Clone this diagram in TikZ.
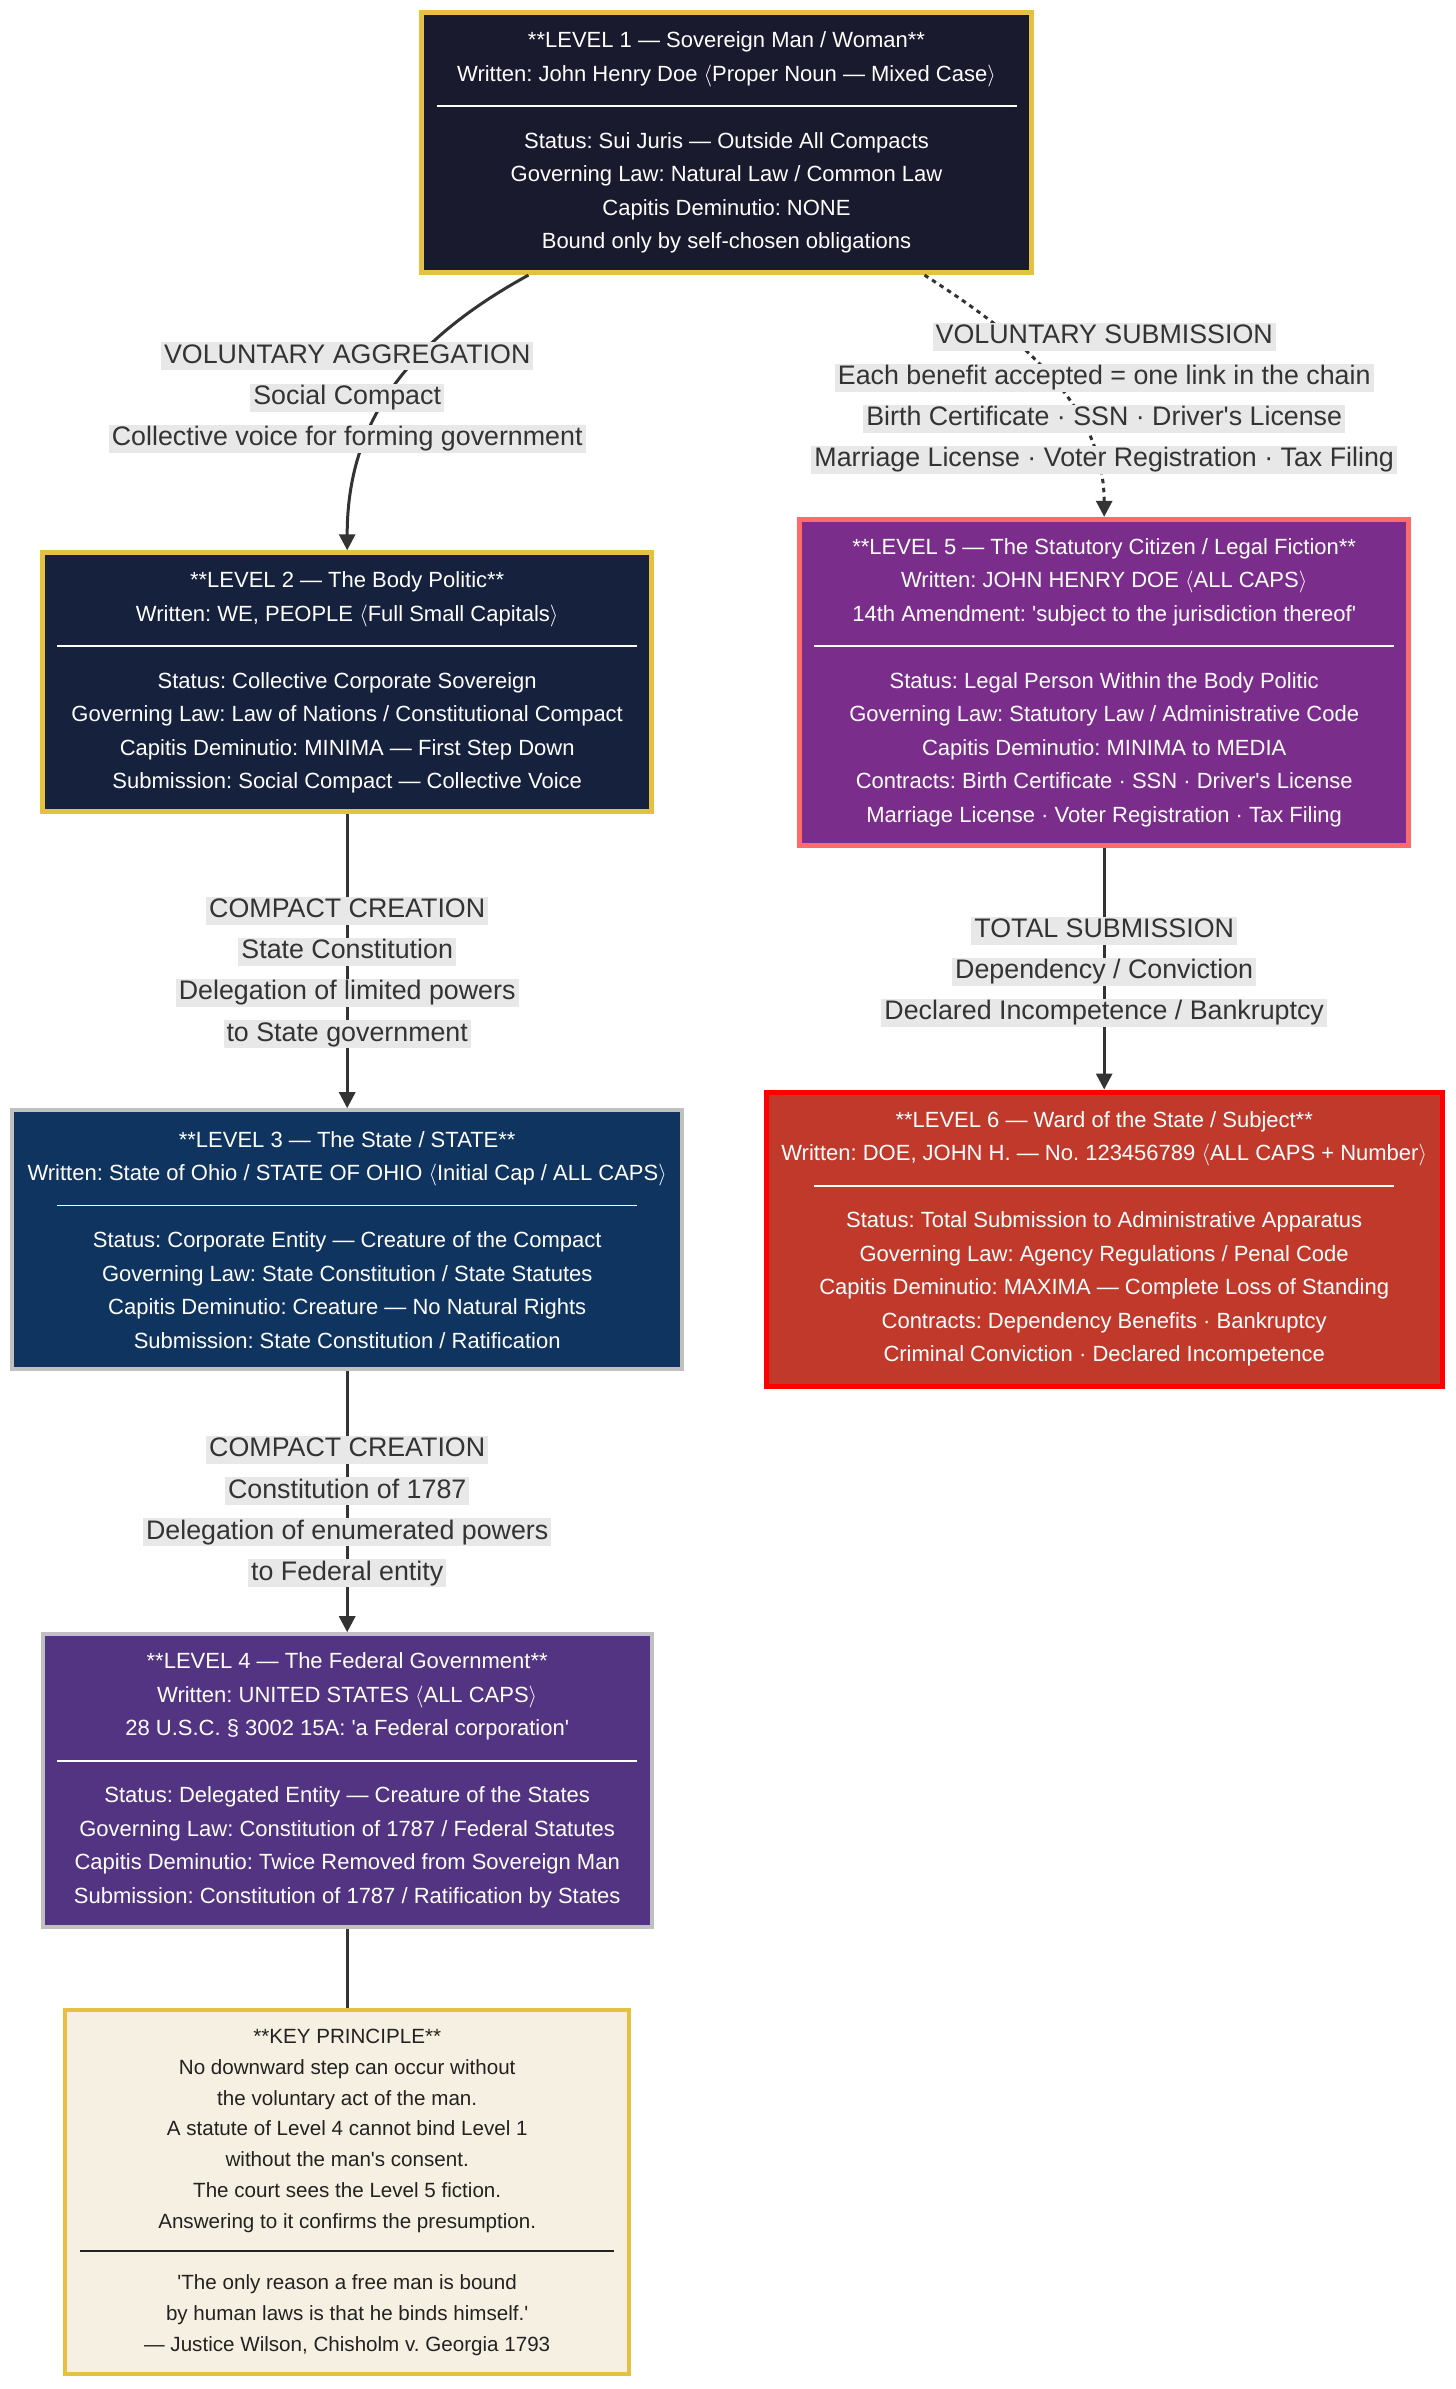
\documentclass[tikz,border=0pt]{standalone}
\usepackage{fontspec}
\setmainfont{Liberation Sans}
\usetikzlibrary{arrows.meta}

\definecolor{goldrim}{HTML}{E6C042}
\definecolor{silverrim}{HTML}{C0C0C0}
\definecolor{salmonrim}{HTML}{FF6B6B}
\definecolor{redrim}{HTML}{FF0000}
\definecolor{navyone}{HTML}{1A1A2E}
\definecolor{navytwo}{HTML}{16213E}
\definecolor{bluestate}{HTML}{0F3460}
\definecolor{violetfed}{HTML}{533483}
\definecolor{purplecit}{HTML}{7B2D8B}
\definecolor{redward}{HTML}{C0392B}
\definecolor{cream}{HTML}{F5F0E1}
\definecolor{ink}{HTML}{333333}
\definecolor{keyink}{HTML}{222222}
\definecolor{labelgray}{HTML}{E8E8E8}

\newcommand{\sq}{\textquotesingle}
\newcommand{\la}{$\langle$}
\newcommand{\ra}{$\rangle$}
\newcommand{\seprule}{\rule[3.8pt]{290pt}{0.75pt}}
\newcommand{\keyrule}{\rule[3.6pt]{267pt}{0.75pt}}
\frenchspacing

\begin{document}
\begin{tikzpicture}[x=0.5pt, y=-0.5pt,
    tier/.style={rectangle, draw, line width=2.5pt, text=white, align=center,
        inner sep=0pt, font=\fontsize{11}{16.75}\selectfont},
    elabel/.style={fill=labelgray, text=ink, inner xsep=1.5pt, inner ysep=0.5pt,
        text height=10pt, text depth=3pt, yshift=-1.5pt, font=\fontsize{13.4}{16}\selectfont},
    link/.style={draw=ink, line width=1.5pt},
    linkarrow/.style={link, -{Triangle[length=8pt, width=8pt]}},
    dotlink/.style={linkarrow, dash pattern=on 2.25pt off 2.25pt}
]
    \fill[white] (0,0) rectangle (1456,2389);
    \useasboundingbox (0,0) rectangle (1456,2389);

    % the six levels
    \node[tier, fill=navyone, draw=goldrim, minimum width=304.6pt, minimum height=130.2pt]
        (lone) at (726.5,142.4) {**LEVEL 1 — Sovereign Man / Woman**\\
        Written: John Henry Doe \la Proper Noun — Mixed Case\ra\\
        \seprule\\
        Status: Sui Juris — Outside All Compacts\\
        Governing Law: Natural Law / Common Law\\
        Capitis Deminutio: NONE\\
        Bound only by self-chosen obligations};
    \node[tier, fill=navytwo, draw=goldrim, minimum width=304.6pt, minimum height=129.5pt]
        (ltwo) at (347.2,682.3) {**LEVEL 2 — The Body Politic**\\
        Written: WE, PEOPLE \la Full Small Capitals\ra\\
        \seprule\\
        Status: Collective Corporate Sovereign\\
        Governing Law: Law of Nations / Constitutional Compact\\
        Capitis Deminutio: MINIMA — First Step Down\\
        Submission: Social Compact — Collective Voice};
    \node[tier, fill=bluestate, draw=silverrim, line width=2pt, minimum width=335pt, minimum height=129.5pt]
        (lthree) at (347.2,1239.7) {**LEVEL 3 — The State / STATE**\\
        Written: State of Ohio / STATE OF OHIO \la Initial Cap / ALL CAPS\ra\\
        \seprule\\
        Status: Corporate Entity — Creature of the Compact\\
        Governing Law: State Constitution / State Statutes\\
        Capitis Deminutio: Creature — No Natural Rights\\
        Submission: State Constitution / Ratification};
    \node[tier, fill=violetfed, draw=silverrim, line width=2pt, minimum width=304.6pt, minimum height=146.2pt]
        (lfour) at (347.2,1780.4) {**LEVEL 4 — The Federal Government**\\
        Written: UNITED STATES \la ALL CAPS\ra\\
        28 U.S.C. § 3002 15A: \sq a Federal corporation\sq\\
        \seprule\\
        Status: Delegated Entity — Creature of the States\\
        Governing Law: Constitution of 1787 / Federal Statutes\\
        Capitis Deminutio: Twice Removed from Sovereign Man\\
        Submission: Constitution of 1787 / Ratification by States};
    \node[tier, fill=purplecit, draw=salmonrim, minimum width=304.6pt, minimum height=163pt]
        (lfive) at (1104.2,682.3) {**LEVEL 5 — The Statutory Citizen / Legal Fiction**\\
        Written: JOHN HENRY DOE \la ALL CAPS\ra\\
        14th Amendment: \sq subject to the jurisdiction thereof\sq\\
        \seprule\\
        Status: Legal Person Within the Body Politic\\
        Governing Law: Statutory Law / Administrative Code\\
        Capitis Deminutio: MINIMA to MEDIA\\
        Contracts: Birth Certificate · SSN · Driver\sq s License\\
        Marriage License · Voter Registration · Tax Filing};
    \node[tier, fill=redward, draw=redrim, minimum width=338pt, minimum height=147pt]
        (lsix) at (1104.2,1239) {**LEVEL 6 — Ward of the State / Subject**\\
        Written: DOE, JOHN H. — No. 123456789 \la ALL CAPS + Number\ra\\
        \seprule\\
        Status: Total Submission to Administrative Apparatus\\
        Governing Law: Agency Regulations / Penal Code\\
        Capitis Deminutio: MAXIMA — Complete Loss of Standing\\
        Contracts: Dependency Benefits · Bankruptcy\\
        Criminal Conviction · Declared Incompetence};
    \node[tier, fill=cream, draw=goldrim, line width=2pt, text=keyink,
        font=\fontsize{10.3}{15.4}\selectfont, minimum width=281.8pt, minimum height=182pt]
        (key) at (347.2,2192.4) {**KEY PRINCIPLE**\\
        No downward step can occur without\\
        the voluntary act of the man.\\
        A statute of Level 4 cannot bind Level 1\\
        without the man\sq s consent.\\
        The court sees the Level 5 fiction.\\
        Answering to it confirms the presumption.\\
        \keyrule\\
        \sq The only reason a free man is bound\\
        by human laws is that he binds himself.\sq\\
        — Justice Wilson, Chisholm v. Georgia 1793};

    % connectors
    \draw[linkarrow] ([xshift=-99pt]lone.south) .. controls (410,340) and (347,420) .. (ltwo.north);
    \draw[dotlink] ([xshift=99pt]lone.south) .. controls (1010,330) and (1104,400) .. (lfive.north);
    \draw[linkarrow] (ltwo) -- (lthree);
    \draw[linkarrow] (lthree) -- (lfour);
    \draw[linkarrow] (lfive) -- (lsix);
    \draw[link] (lfour) -- (key);

    % edge labels
    \node[elabel] (aggA) at (347.2,353.3) {VOLUNTARY AGGREGATION};
    \node[elabel] (aggB) at (347.2,394.5) {Social Compact};
    \node[elabel] (aggC) at (347.2,435.6) {Collective voice for forming government};
    \node[elabel] (subA) at (1104.2,333.5) {VOLUNTARY SUBMISSION};
    \node[elabel] (subB) at (1104.2,374.7) {Each benefit accepted = one link in the chain};
    \node[elabel] (subC) at (1104.2,415.8) {Birth Certificate · SSN · Driver\sq s License};
    \node[elabel] (subD) at (1104.2,456.9) {Marriage License · Voter Registration · Tax Filing};
    \node[elabel] (stA) at (347.2,907.7) {COMPACT CREATION};
    \node[elabel] (stB) at (347.2,948.8) {State Constitution};
    \node[elabel] (stC) at (347.2,989.9) {Delegation of limited powers};
    \node[elabel] (stD) at (347.2,1031) {to State government};
    \node[elabel] (fedA) at (347.2,1446.8) {COMPACT CREATION};
    \node[elabel] (fedB) at (347.2,1488) {Constitution of 1787};
    \node[elabel] (fedC) at (347.2,1529) {Delegation of enumerated powers};
    \node[elabel] (fedD) at (347.2,1570.2) {to Federal entity};
    \node[elabel] (totA) at (1104.2,927.5) {TOTAL SUBMISSION};
    \node[elabel] (totB) at (1104.2,968.6) {Dependency / Conviction};
    \node[elabel] (totC) at (1104.2,1009.7) {Declared Incompetence / Bankruptcy};
\end{tikzpicture}
\end{document}
